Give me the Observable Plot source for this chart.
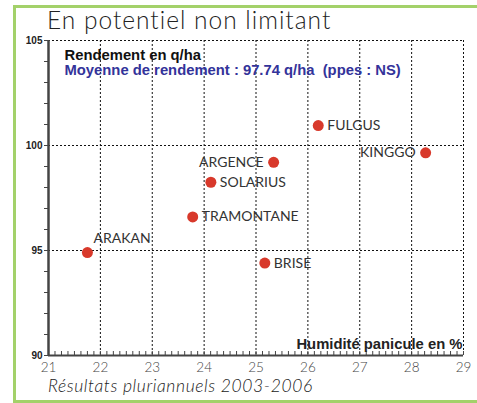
<!DOCTYPE html>
<html><head><meta charset="utf-8">
<script src="https://cdn.jsdelivr.net/npm/d3@7"></script>
<script src="https://cdn.jsdelivr.net/npm/@observablehq/plot@0.6"></script>
<style>
body{margin:0;background:#fff;width:477px;height:403px;overflow:hidden;position:relative;font-family:Lato,sans-serif;}
#frame{position:absolute;left:13px;top:5px;width:480px;height:392px;border-left:3px solid #a3d16a;border-top:3px solid #a3d16a;border-bottom:3px solid #a3d16a;}
#title{position:absolute;left:47px;top:5px;font-family:Lato,sans-serif;font-weight:300;font-size:24.5px;color:#222;letter-spacing:1px;white-space:nowrap;}
#chart{position:absolute;left:0;top:30px;}
#caption{position:absolute;left:48px;top:375px;font-family:Lato,sans-serif;font-style:italic;font-weight:300;font-size:17.5px;color:#222;letter-spacing:0.6px;white-space:nowrap;}
</style></head>
<body>
<div id="frame"></div>
<div id="title">En potentiel non limitant</div>
<div id="chart"></div>
<div id="caption">Résultats pluriannuels 2003-2006</div>
<script>
const varieties = ["ARAKAN","TRAMONTANE","SOLARIUS","ARGENCE","FULGUS","KINGGO","BRISE"];
const humidity  = [21.75, 23.78, 24.13, 25.34, 26.2, 28.27, 25.17];
const yieldQ    = [94.9, 96.6, 98.25, 99.2, 100.95, 99.65, 94.4];
const leftLabelled = ["ARGENCE","KINGGO"];
const aboveLabelled = ["ARAKAN"];
const xTicks = [21,22,23,24,25,26,27,28,29];
const yTicks = [90,95,100,105];
const yLabel = "Rendement en q/ha";
const meanLabel = "Moyenne de rendement : 97.74 q/ha  (ppes : NS)";
const xLabel = "Humidité panicule en %";

const data = varieties.map((v,i)=>({name:v, x:humidity[i], y:yieldQ[i]}));
const right = data.filter(d=>!leftLabelled.includes(d.name) && !aboveLabelled.includes(d.name));
const left = data.filter(d=>leftLabelled.includes(d.name));
const above = data.filter(d=>aboveLabelled.includes(d.name));
const minorX = d3.range(21, 29.0001, 0.125);
const minorY = d3.range(90, 105.001, 1);
const bold = {fontWeight:"bold", fontFamily:"Liberation Sans, Arial", fontSize:14.8};
const lab = {fontSize:14, fontFamily:"Lato", fill:"#333"};

const chart = Plot.plot({
  width: 477, height: 345,
  marginLeft: 48, marginRight: 14, marginTop: 10, marginBottom: 20,
  x: {domain:[21,29], label:null},
  y: {domain:[90,105], label:null},
  style: {background:"transparent"},
  marks: [
    Plot.gridX(xTicks.slice(1), {stroke:"#111", strokeOpacity:1, strokeDasharray:"2,2", strokeWidth:1}),
    Plot.gridY(yTicks.slice(1), {stroke:"#111", strokeOpacity:1, strokeDasharray:"2,2", strokeWidth:1}),
    Plot.axisX({ticks: minorX, tickSize: -4, text: null, stroke:"#444", label:null}),
    Plot.axisX({ticks: xTicks, tickSize: 0, tickPadding: 7, fontSize: 13.5, fill:"#444", fontFamily:"Lato", fontWeight:300, label:null}),
    Plot.axisY({ticks: minorY, tickSize: 4, text: null, stroke:"#444", label:null}),
    Plot.axisY({ticks: yTicks, tickSize: 4, tickPadding: 2, fontSize: 10, fontWeight:"bold", fontFamily:"Liberation Sans, Arial", fill:"#222", label:null, stroke:"#444"}),
    Plot.ruleY([90], {stroke:"#444", strokeWidth:2}),
    Plot.ruleX([21], {stroke:"#444", strokeWidth:2.5}),
    Plot.text([yLabel], {frameAnchor:"top-left", dx:16, dy:9, lineAnchor:"top", textAnchor:"start", fill:"#111", ...bold}),
    Plot.text([meanLabel], {frameAnchor:"top-left", dx:16, dy:24, lineAnchor:"top", textAnchor:"start", fill:"#33339a", ...bold}),
    Plot.text([xLabel], {frameAnchor:"bottom-right", dx:-1, dy:-7, lineAnchor:"bottom", textAnchor:"end", fill:"#222", ...bold}),
    Plot.dot(data, {x:"x", y:"y", r:5.5, fill:"#d8392b", stroke:"none"}),
    Plot.text(right, {x:"x", y:"y", text:"name", dx:9, textAnchor:"start", ...lab}),
    Plot.text(left, {x:"x", y:"y", text:"name", dx:-10, textAnchor:"end", ...lab}),
    Plot.text(above, {x:"x", y:"y", text:"name", dx:6, dy:-14, textAnchor:"start", ...lab})
  ]
});
document.getElementById("chart").appendChild(chart);
</script>
</body></html>
